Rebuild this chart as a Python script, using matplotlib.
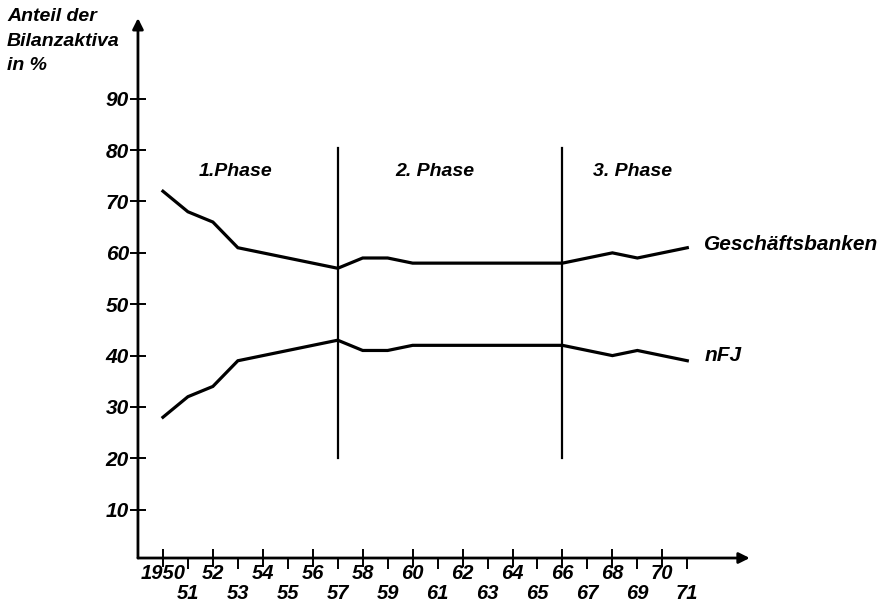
import matplotlib.pyplot as plt
import matplotlib.transforms as mtransforms

# daten
jahre = list(range(1950, 1972))
geschaeftsbanken = [72, 68, 66, 61, 60, 59, 58, 57, 59, 59, 58, 58,
                    58, 58, 58, 58, 58, 59, 60, 59, 60, 61]
nfj = [28, 32, 34, 39, 40, 41, 42, 43, 41, 41, 42, 42,
       42, 42, 42, 42, 42, 41, 40, 41, 40, 39]
y_ticks = [10, 20, 30, 40, 50, 60, 70, 80, 90]
phasen_grenzen = [1957, 1966]
phasen = ["1.Phase", "2. Phase", "3. Phase"]
phasen_x = [1952.9, 1960.9, 1968.8]

plt.rcParams['font.family'] = ['Liberation Sans', 'DejaVu Sans']
schrift = dict(style='italic', weight='bold', color='black')

fig = plt.figure(figsize=(8.81, 6.03), dpi=100)
ax = fig.add_axes([0.1566, 0.0746, 0.851 - 0.1566, 0.970 - 0.0746])
ax.set_xlim(1949.0, 1973.5)
ax.set_ylim(0.6, 105.7)

# linien
ax.plot(jahre, geschaeftsbanken, color='black', lw=2.3, solid_joinstyle='miter')
ax.plot(jahre, nfj, color='black', lw=2.3, solid_joinstyle='miter')

# phasen
for g in phasen_grenzen:
  ax.plot([g, g], [20, 80.5], color='black', lw=1.6)
for name, px in zip(phasen, phasen_x):
  ax.text(px, 75.8, name, ha='center', va='center', fontsize=14, **schrift)

ax.text(1971.65, 61.6, "Geschäftsbanken", ha='left', va='center', fontsize=15, **schrift)
ax.text(1971.7, 40.0, "nFJ", ha='left', va='center', fontsize=15, **schrift)

# achsen mit pfeilen
for s in ax.spines.values():
  s.set_visible(False)
ax.annotate('', xy=(1, 0), xytext=(0, 0), xycoords='axes fraction',
            arrowprops=dict(arrowstyle='-|>', color='black', lw=2.0,
                            mutation_scale=16, shrinkA=0, shrinkB=0))
ax.annotate('', xy=(0, 1), xytext=(0, 0), xycoords='axes fraction',
            arrowprops=dict(arrowstyle='-|>', color='black', lw=2.0,
                            mutation_scale=16, shrinkA=0, shrinkB=0))

ax.set_yticks(y_ticks)
ax.set_yticklabels([str(v) for v in y_ticks], fontsize=15, **schrift)
ax.tick_params(axis='y', direction='inout', length=11, width=1.4, pad=1)

ax.set_xticks([j for j in jahre if j % 2 == 0])
ax.set_xticks([j for j in jahre if j % 2 == 1], minor=True)
ax.set_xticklabels([])
ax.tick_params(axis='x', which='major', direction='inout', length=13, width=1.4)
ax.tick_params(axis='x', which='minor', direction='out', length=8, width=1.4)

# jahreszahlen in zwei reihen
trans = mtransforms.blended_transform_factory(ax.transData, ax.transAxes)
for j in jahre:
  if j % 2 == 0:
    txt, yy = (str(j) if j == 1950 else str(j)[2:]), -0.028
  else:
    txt, yy = str(j)[2:], -0.066
  ax.text(j, yy, txt, transform=trans, ha='center', va='center',
          fontsize=14.5, **schrift)

fig.text(0.008, 0.987, "Anteil der\nBilanzaktiva\nin %", ha='left', va='top',
         fontsize=14, linespacing=1.6, **schrift)

plt.savefig("out.png", dpi=100)
plt.close()
